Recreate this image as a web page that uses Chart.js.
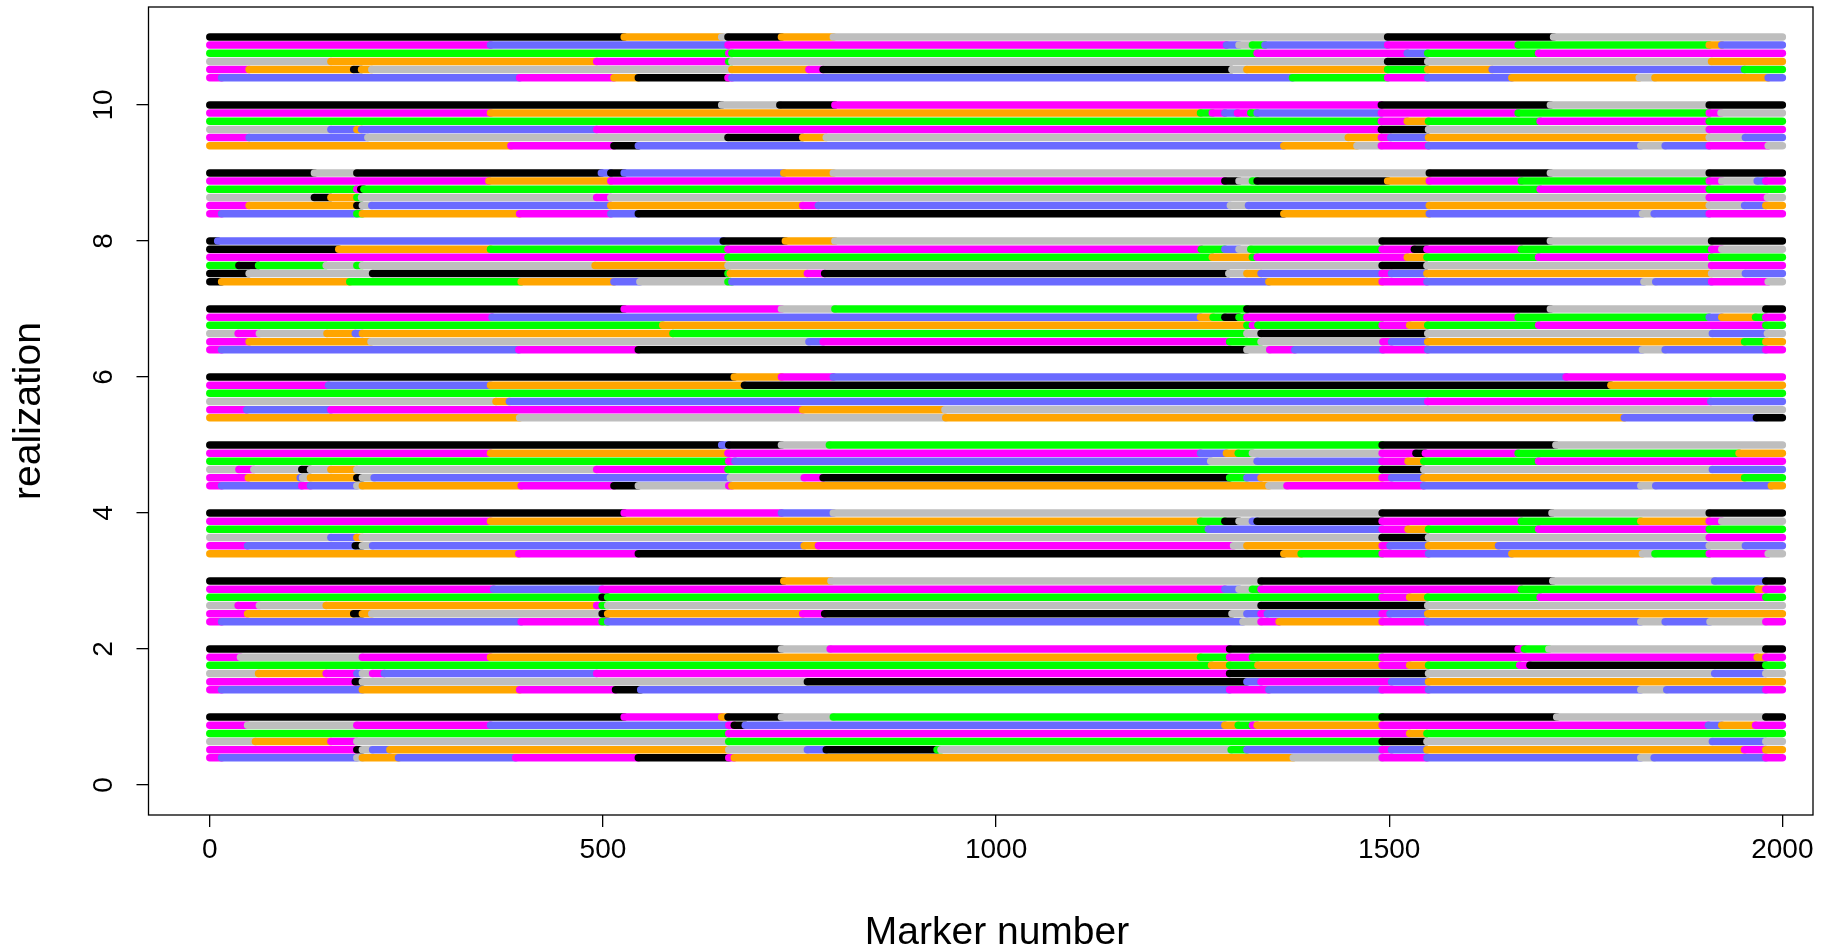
<!DOCTYPE html>
<html>
<head>
<meta charset="utf-8">
<script src="https://cdn.jsdelivr.net/npm/chart.js@4.4.0/dist/chart.umd.min.js"></script>
<style>
  html, body { margin: 0; padding: 0; background: #fff; }
  #wrap { width: 1848px; height: 945px; }
</style>
</head>
<body>
<div id="wrap"><canvas id="chart"></canvas></div>
<script>
// founder colours: K black, M magenta, G green, A grey, O orange, B blue
const founderColors = { K: '#000000', M: '#FF00FF', G: '#00FF00', A: '#BEBEBE', O: '#FFA500', B: '#6A6AFF' };

const xTicks = [0, 500, 1000, 1500, 2000];
const yTicks = [0, 2, 4, 6, 8, 10];
const markerEnd = 2000;
const rowStep = 0.12;

// each realization: six rows, every row is [start marker, colour, start marker, colour, ...]
const real1 = [
  [0,'K',527,'M',651,'O',659,'K',727,'A',793,'G',1491,'K',1713,'A',1979,'K'],
  [0,'M',48,'A',187,'M',357,'B',660,'M',667,'K',681,'B',1291,'O',1308,'G',1326,'M',1332,'O',1491,'M',1906,'B',1923,'O',1966,'M'],
  [0,'G',660,'M',1526,'O',1548,'G'],
  [0,'A',58,'O',154,'M',187,'A',660,'G',1491,'K',1548,'A',1911,'B',1979,'A'],
  [0,'M',187,'K',194,'A',207,'B',229,'O',660,'A',760,'B',784,'K',925,'G',930,'A',1299,'G',1319,'B',1491,'M',1503,'B',1548,'O',1952,'M',1979,'O'],
  [0,'M',15,'B',187,'A',194,'O',240,'B',389,'M',545,'K',660,'M',667,'O',1378,'A',1491,'M',1548,'B',1820,'A',1837,'B',1979,'M']
];
const real2 = [
  [0,'K',727,'A',789,'M',1297,'K',1664,'M',1672,'G',1703,'A',1979,'K'],
  [0,'M',39,'A',194,'M',357,'O',1260,'G',1297,'M',1326,'G',1491,'M',1968,'O',1979,'M'],
  [0,'G',1274,'O',1297,'G',1333,'O',1491,'M',1526,'O',1550,'G',1666,'M',1679,'K',1979,'G'],
  [0,'A',62,'O',148,'M',187,'B',194,'A',207,'M',222,'B',492,'M',1297,'K',1550,'A',1914,'B',1979,'A'],
  [0,'M',185,'K',194,'A',760,'K',1319,'B',1337,'M',1503,'B',1550,'O'],
  [0,'M',15,'B',194,'O',394,'M',516,'K',548,'B',1297,'M',1347,'B',1491,'M',1550,'B',1820,'A',1853,'B',1979,'M']
];
const real3 = [
  [0,'K',730,'O',790,'A',1337,'K',1708,'A',1914,'B',1979,'K'],
  [0,'M',361,'B',499,'M',1291,'B',1309,'A',1326,'G',1337,'M',1668,'G',1969,'O',1979,'M'],
  [0,'G',499,'K',506,'G',1491,'M',1526,'O',1549,'G',1692,'M',1979,'G'],
  [0,'A',36,'M',63,'A',148,'O',492,'M',499,'G',506,'A',1337,'K',1549,'A'],
  [0,'M',48,'O',183,'K',194,'O',206,'A',499,'K',506,'O',754,'M',782,'K',1300,'A',1319,'B',1337,'M',1345,'B',1491,'M',1501,'B',1549,'O'],
  [0,'M',15,'B',396,'M',499,'G',506,'B',1314,'A',1337,'M',1360,'O',1491,'M',1549,'B',1820,'A',1851,'B',1908,'A',1979,'M']
];
const real4 = [
  [0,'K',527,'M',727,'B',793,'A',1491,'K',1707,'A',1907,'K'],
  [0,'M',357,'O',1260,'G',1291,'K',1309,'A',1326,'B',1332,'K',1491,'M',1668,'G',1820,'O',1907,'M',1923,'A'],
  [0,'G',1270,'B',1491,'M',1524,'O',1550,'G',1690,'M',1907,'G'],
  [0,'A',154,'B',187,'O',194,'A',1491,'K',1550,'A',1907,'M'],
  [0,'M',48,'B',185,'K',194,'A',207,'B',756,'O',774,'M',1302,'A',1319,'O',1491,'M',1501,'B',1550,'O',1639,'B',1907,'A',1953,'B'],
  [0,'O',393,'M',545,'K',1366,'O',1388,'G',1491,'M',1550,'B',1656,'O',1822,'A',1838,'G',1907,'M',1982,'A']
];
const real5 = [
  [0,'K',651,'B',660,'K',727,'A',788,'G',1491,'K',1712,'A'],
  [0,'M',357,'O',659,'M',1260,'B',1293,'O',1308,'G',1326,'A',1491,'M',1534,'K',1546,'M',1664,'G',1945,'O'],
  [0,'G',660,'M',668,'B',1273,'A',1332,'B',1491,'M',1524,'O',1544,'G',1690,'M'],
  [0,'A',37,'M',56,'A',117,'K',128,'A',154,'O',187,'A',492,'M',659,'G',1491,'K',1544,'A',1911,'B'],
  [0,'M',49,'O',115,'B',118,'A',128,'O',187,'K',194,'A',209,'B',662,'A',756,'M',780,'K',1297,'G',1319,'B',1337,'O',1491,'M',1503,'B',1544,'O',1952,'G'],
  [0,'M',15,'B',117,'M',128,'B',187,'A',194,'O',396,'M',514,'K',545,'A',660,'M',664,'O',1347,'A',1370,'M',1544,'B',1820,'A',1839,'B',1986,'O']
];
const real6 = [
  [0,'K',667,'O',727,'M',793,'B',1725,'M'],
  [0,'M',151,'B',357,'O',680,'K',1782,'O'],
  [0,'G'],
  [0,'A',364,'O',381,'B',1549,'M',1909,'B'],
  [0,'M',47,'B',154,'M',754,'O',935,'A'],
  [0,'O',394,'A',936,'O',1799,'B',1967,'K']
];
const real7 = [
  [0,'K',527,'M',727,'A',795,'G',1319,'K',1705,'A',1979,'K'],
  [0,'M',359,'B',1260,'O',1276,'G',1291,'K',1309,'G',1319,'M',1664,'G',1907,'B',1923,'O',1966,'G',1979,'M'],
  [0,'G',576,'O',1319,'G',1326,'M',1333,'G',1491,'M',1526,'O',1549,'G',1690,'M',1979,'G'],
  [0,'A',36,'M',63,'A',149,'O',185,'B',194,'O',589,'G',1319,'A',1337,'K',1549,'A',1911,'B',1981,'A'],
  [0,'M',50,'O',205,'A',762,'B',780,'M',1297,'G',1337,'A',1492,'M',1503,'B',1549,'O',1952,'G',1979,'O'],
  [0,'M',15,'B',393,'M',545,'K',1319,'A',1348,'M',1380,'B',1492,'M',1549,'B',1822,'A',1851,'B',1979,'M']
];
const real8 = [
  [0,'K',10,'B',653,'K',732,'O',795,'A',1491,'K',1705,'A',1910,'K'],
  [0,'K',164,'O',357,'G',659,'M',1261,'G',1291,'B',1309,'A',1324,'G',1491,'M',1532,'K',1548,'M',1668,'G',1910,'M',1923,'A'],
  [0,'M',659,'G',1275,'O',1326,'G',1332,'M',1523,'O',1548,'G',1690,'M',1910,'G'],
  [0,'G',37,'K',62,'G',148,'A',187,'G',194,'A',490,'O',659,'A',1491,'K',1548,'A',1910,'M'],
  [0,'K',50,'A',207,'K',659,'G',662,'O',760,'M',782,'K',1296,'A',1319,'O',1337,'B',1491,'M',1503,'B',1548,'O',1910,'A',1953,'B'],
  [0,'K',15,'O',178,'G',396,'O',514,'B',547,'A',659,'G',664,'B',1347,'O',1491,'M',1548,'B',1824,'A',1839,'B',1910,'M',1982,'A']
];
const real9 = [
  [0,'K',133,'A',187,'K',498,'B',510,'K',527,'B',730,'O',793,'A',1551,'K',1705,'A',1907,'K'],
  [0,'M',355,'O',510,'M',1291,'K',1309,'A',1326,'G',1332,'K',1498,'O',1551,'M',1668,'G',1907,'M',1923,'A',1968,'B',1979,'M'],
  [0,'G',187,'M',192,'K',196,'G',1692,'M',1907,'G'],
  [0,'A',133,'K',154,'O',187,'G',193,'A',492,'M',510,'A',1907,'M',1981,'A'],
  [0,'M',50,'O',187,'K',194,'A',206,'B',510,'O',754,'M',774,'B',1298,'A',1321,'B',1551,'O',1907,'A',1952,'B',1979,'O'],
  [0,'M',15,'B',187,'G',194,'O',394,'M',510,'B',545,'K',1366,'O',1551,'B',1822,'A',1837,'B',1907,'M']
];
const real10 = [
  [0,'K',651,'A',725,'K',795,'M',1490,'K',1705,'A',1907,'K'],
  [0,'M',357,'O',1260,'G',1275,'M',1291,'B',1307,'M',1324,'G',1332,'B',1490,'M',1664,'G',1907,'M',1922,'A'],
  [0,'G',1490,'M',1523,'O',1550,'G',1692,'M',1907,'G'],
  [0,'A',154,'B',187,'O',193,'B',492,'M',1490,'K',1550,'A',1907,'M'],
  [0,'M',50,'B',201,'A',659,'K',754,'O',784,'A',1448,'O',1490,'M',1502,'B',1550,'O',1907,'A',1953,'B'],
  [0,'O',383,'M',514,'K',545,'B',1366,'O',1459,'A',1490,'M',1550,'B',1820,'A',1851,'B',1907,'M',1982,'A']
];
const real11 = [
  [0,'K',527,'O',651,'A',659,'K',727,'O',793,'A',1498,'K',1709,'A'],
  [0,'M',357,'B',659,'M',1293,'B',1309,'A',1326,'G',1342,'B',1498,'M',1664,'G',1907,'O',1923,'B'],
  [0,'G',660,'M',664,'G',1332,'M',1523,'B',1549,'G',1690,'M'],
  [0,'A',154,'O',492,'M',660,'G',664,'A',1498,'K',1549,'A',1910,'O'],
  [0,'M',50,'O',183,'K',193,'O',206,'A',664,'O',762,'M',780,'K',1300,'A',1319,'O',1498,'G',1549,'O',1631,'B',1952,'G'],
  [0,'M',15,'B',394,'M',514,'O',545,'K',659,'M',664,'B',1377,'G',1498,'M',1549,'B',1656,'O',1818,'A',1838,'O',1982,'B']
];

const realizations = [real1, real2, real3, real4, real5, real6, real7, real8, real9, real10, real11];

function buildDatasets() {
    let sets = [];
    realizations.forEach((rows, k) => {
        rows.forEach((row, j) => {
            let y = (k + 1) - rowStep * j;
            let points = [];
            let cols = [];
            for (let i = 0; i < row.length; i += 2) {
                points.push({ x: row[i], y: y });
                cols.push(founderColors[row[i + 1]]);
            }
            points.push({ x: markerEnd, y: y });
            sets.push({
                data: points,
                borderColor: cols[0],
                borderWidth: 7.5,
                borderCapStyle: 'round',
                pointRadius: 0,
                fill: false,
                segment: { borderColor: ctx => cols[ctx.p0DataIndex] }
            });
        });
    });
    return sets;
}

const boxPlugin = {
    id: 'box',
    afterDraw(chart) {
        const { ctx, chartArea: a } = chart;
        ctx.save();
        ctx.strokeStyle = '#000';
        ctx.lineWidth = 1.3;
        ctx.strokeRect(a.left, a.top, a.right - a.left, a.bottom - a.top);
        ctx.restore();
    }
};

const fontFamily = "'Liberation Sans', Arial, sans-serif";

// keep the plot box where it is: no extra padding from tick labels
function noLabelPadding(s) {
    s.paddingTop = 0;
    s.paddingBottom = 0;
    s.paddingLeft = 0;
    s.paddingRight = 0;
}

new Chart(document.getElementById('chart'), {
    type: 'line',
    data: { datasets: buildDatasets() },
    options: {
        responsive: true,
        maintainAspectRatio: false,
        animation: false,
        events: [],
        layout: { padding: { top: 7, right: 35, left: 0, bottom: 0 } },
        plugins: { legend: { display: false }, tooltip: { enabled: false } },
        scales: {
            x: {
                type: 'linear',
                min: -78,
                max: 2039,
                afterBuildTicks: s => { s.ticks = xTicks.map(v => ({ value: v })); },
                afterFit: s => { s.height = 130; noLabelPadding(s); },
                ticks: {
                    callback: v => String(v),
                    autoSkip: false,
                    maxRotation: 0,
                    padding: 6,
                    color: '#000',
                    font: { family: fontFamily, size: 28 }
                },
                grid: { drawOnChartArea: false, tickLength: 12, color: '#000', lineWidth: 1.3 },
                border: { display: false },
                title: {
                    display: true,
                    text: '\u00a0\u00a0\u00a0Marker number',
                    color: '#000',
                    font: { family: fontFamily, size: 39, lineHeight: 0.6 },
                    padding: 0
                }
            },
            y: {
                type: 'linear',
                min: -0.44,
                max: 11.44,
                afterBuildTicks: s => { s.ticks = yTicks.map(v => ({ value: v })); },
                afterFit: s => { s.width = 148.5; noLabelPadding(s); },
                ticks: {
                    callback: v => String(v),
                    autoSkip: false,
                    minRotation: 90,
                    maxRotation: 90,
                    crossAlign: 'center',
                    padding: 17,
                    color: '#000',
                    font: { family: fontFamily, size: 28 }
                },
                grid: { drawOnChartArea: false, tickLength: 12, color: '#000', lineWidth: 1.3 },
                border: { display: false },
                title: {
                    display: true,
                    text: 'realization',
                    color: '#000',
                    font: { family: fontFamily, size: 39 },
                    padding: { top: 6, bottom: 0 }
                }
            }
        }
    },
    plugins: [boxPlugin]
});
</script>
</body>
</html>
